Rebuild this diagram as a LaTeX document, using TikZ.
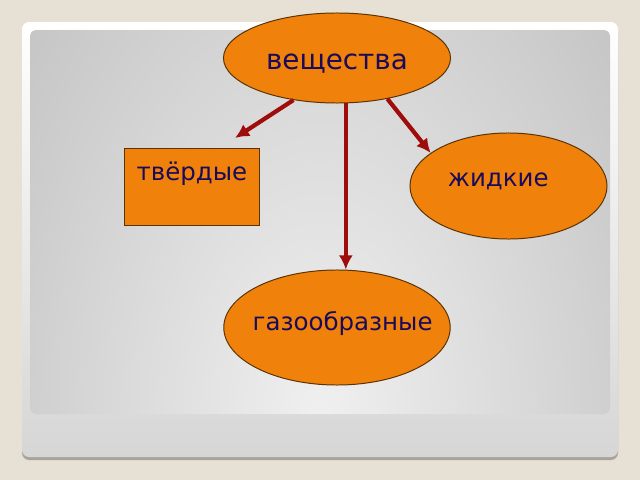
\documentclass[tikz,border=0pt]{standalone}
\usepackage{fontspec}
\setmainfont{DejaVu Sans}
\usetikzlibrary{shapes.geometric,arrows.meta}
\definecolor{pagebg}{RGB}{230,224,213}
\definecolor{frameshadow}{RGB}{168,164,156}
\definecolor{stripgray}{RGB}{214,214,214}
\definecolor{fillorange}{RGB}{240,130,12}
\definecolor{edgebrown}{RGB}{90,50,5}
\definecolor{inknavy}{RGB}{25,10,90}
\definecolor{arrowred}{RGB}{158,12,12}
\definecolor{glowin}{RGB}{240,240,240}
\definecolor{glowout}{RGB}{135,135,135}
\begin{document}
\begin{tikzpicture}[x=0.025cm, y=-0.025cm,
        statebox/.style={draw=edgebrown, line width=0.7pt, fill=fillorange, text=inknavy,
            inner sep=0pt, font=\fontsize{17.4}{20}\selectfont},
        blob/.style={statebox, ellipse},
        flow/.style={arrowred, line width=3pt, -{Latex[length=10pt,width=10pt]}}]
            \useasboundingbox (0,0) rectangle (640,480);
            \fill[pagebg] (0,0) rectangle (640,480);
            \fill[frameshadow, rounded corners=5pt] (22,25) rectangle (618,460);
            \shade[top color=white, bottom color=stripgray, rounded corners=5pt] (22,22) rectangle (618,457);
            \begin{scope}
                \clip[rounded corners=4pt] (30,30) rectangle (610,414);
                \shade[inner color=glowin, outer color=glowout] (320,420) ellipse (932 and 1526);
            \end{scope}

            \node[blob, minimum width=5.675cm, minimum height=2.25cm, text height=18.8pt, text depth=3pt,
                font=\fontsize{19.8}{24}\selectfont] (substances) at (337,58) {вещества};
            \node[statebox, rectangle, minimum width=3.35cm, minimum height=1.9cm,
                text height=13pt, text depth=22.7pt] (solid) at (192,187) {твёрдые};
            \node[blob, minimum width=4.925cm, minimum height=2.65cm, text depth=8.5pt,
                text width=3.025cm, align=left] (liquid) at (508.5,186) {жидкие};
            \node[blob, minimum width=5.65cm, minimum height=2.875cm, text depth=9.2pt,
                text width=4.775cm, align=right, inner xsep=-11pt] (gas) at (337,327.5) {газообразные};

            \coordinate (solidtip) at (235,138);

            \draw[flow] (substances.-136) -- (solidtip);
            \draw[flow] (substances.-79.5) -- (substances.-79.5 |- gas.north);
            \draw[flow] (substances.-39.4) -- (liquid.157);
        \end{tikzpicture}
\end{document}
